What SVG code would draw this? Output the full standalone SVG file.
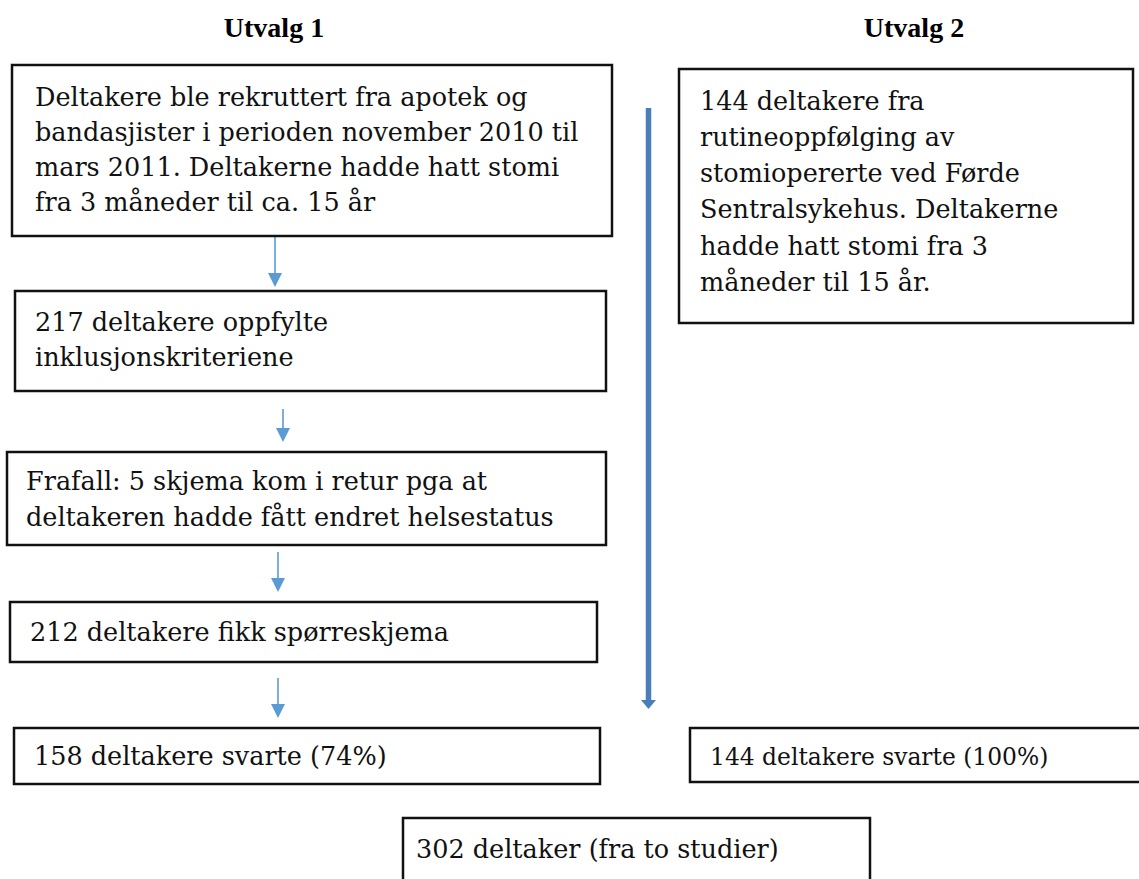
<svg xmlns="http://www.w3.org/2000/svg" width="1139" height="879" viewBox="0 0 1139 879">
  <style>
    .box { fill: #ffffff; stroke: #111111; stroke-width: 2.5; }
    .title { font-family: "Liberation Serif", "Times New Roman", serif; font-weight: bold; font-size: 28px; fill: #000; text-anchor: middle; }
    .txt { font-family: "DejaVu Serif", "Liberation Serif", serif; font-size: 25.5px; fill: #111; }
    .txt-sm { font-family: "DejaVu Serif", "Liberation Serif", serif; font-size: 23.4px; fill: #111; }
    .flow { stroke: #5b9bd5; stroke-width: 1.6; fill: none; }
    .flow-head { fill: #5b9bd5; }
    .trunk { stroke: #4a7ebb; stroke-width: 5.5; fill: none; }
    .trunk-head { fill: #4a7ebb; }
  </style>

  <!-- column headings -->
  <text class="title" x="274" y="37">Utvalg 1</text>
  <text class="title" x="914" y="37">Utvalg 2</text>

  <!-- connectors -->
  <g id="connectors">
    <line class="flow" x1="275" y1="237" x2="275" y2="276"/>
    <polygon class="flow-head" points="268,273 282,273 275,287"/>
    <line class="flow" x1="283" y1="409" x2="283" y2="431"/>
    <polygon class="flow-head" points="276,428 290,428 283,442"/>
    <line class="flow" x1="278" y1="552" x2="278" y2="581"/>
    <polygon class="flow-head" points="271,578 285,578 278,592"/>
    <line class="flow" x1="278" y1="678" x2="278" y2="707"/>
    <polygon class="flow-head" points="271,704 285,704 278,718"/>
    <line class="trunk" x1="648.5" y1="108" x2="648.5" y2="702"/>
    <polygon class="trunk-head" points="641,700 656,700 648.5,709"/>
  </g>

  <!-- Utvalg 1 -->
  <g id="recruited">
    <rect class="box" x="12" y="65" width="600" height="171"/>
    <text class="txt" x="35" y="106">Deltakere ble rekruttert fra apotek og</text>
    <text class="txt" x="35" y="141">bandasjister i perioden november 2010 til</text>
    <text class="txt" x="35" y="176">mars 2011. Deltakerne hadde hatt stomi</text>
    <text class="txt" x="35" y="211">fra 3 måneder til ca. 15 år</text>
  </g>

  <g id="eligible">
    <rect class="box" x="15" y="291" width="591" height="100"/>
    <text class="txt" x="35" y="331">217 deltakere oppfylte</text>
    <text class="txt" x="35" y="366">inklusjonskriteriene</text>
  </g>

  <g id="dropout">
    <rect class="box" x="7" y="452" width="599" height="93"/>
    <text class="txt" x="26" y="490">Frafall: 5 skjema kom i retur pga at</text>
    <text class="txt" x="26" y="526">deltakeren hadde fått endret helsestatus</text>
  </g>

  <g id="questionnaire">
    <rect class="box" x="10" y="602" width="587" height="60"/>
    <text class="txt" x="30" y="641">212 deltakere fikk spørreskjema</text>
  </g>

  <g id="responded-1">
    <rect class="box" x="14" y="728" width="586" height="56"/>
    <text class="txt" x="34" y="765">158 deltakere svarte (74%)</text>
  </g>

  <!-- Utvalg 2 -->
  <g id="follow-up">
    <rect class="box" x="679" y="69" width="454" height="254"/>
    <text class="txt" x="700" y="110">144 deltakere fra</text>
    <text class="txt" x="700" y="146">rutineoppfølging av</text>
    <text class="txt" x="700" y="182">stomiopererte ved Førde</text>
    <text class="txt" x="700" y="218">Sentralsykehus. Deltakerne</text>
    <text class="txt" x="700" y="255">hadde hatt stomi fra 3</text>
    <text class="txt" x="700" y="291">måneder til 15 år.</text>
  </g>

  <g id="responded-2">
    <rect class="box" x="690" y="728" width="460" height="54"/>
    <text class="txt-sm" x="710" y="765">144 deltakere svarte (100%)</text>
  </g>

  <!-- combined total -->
  <g id="total">
    <rect class="box" x="403" y="818" width="467" height="80"/>
    <text class="txt" x="416" y="858">302 deltaker (fra to studier)</text>
  </g>
</svg>
